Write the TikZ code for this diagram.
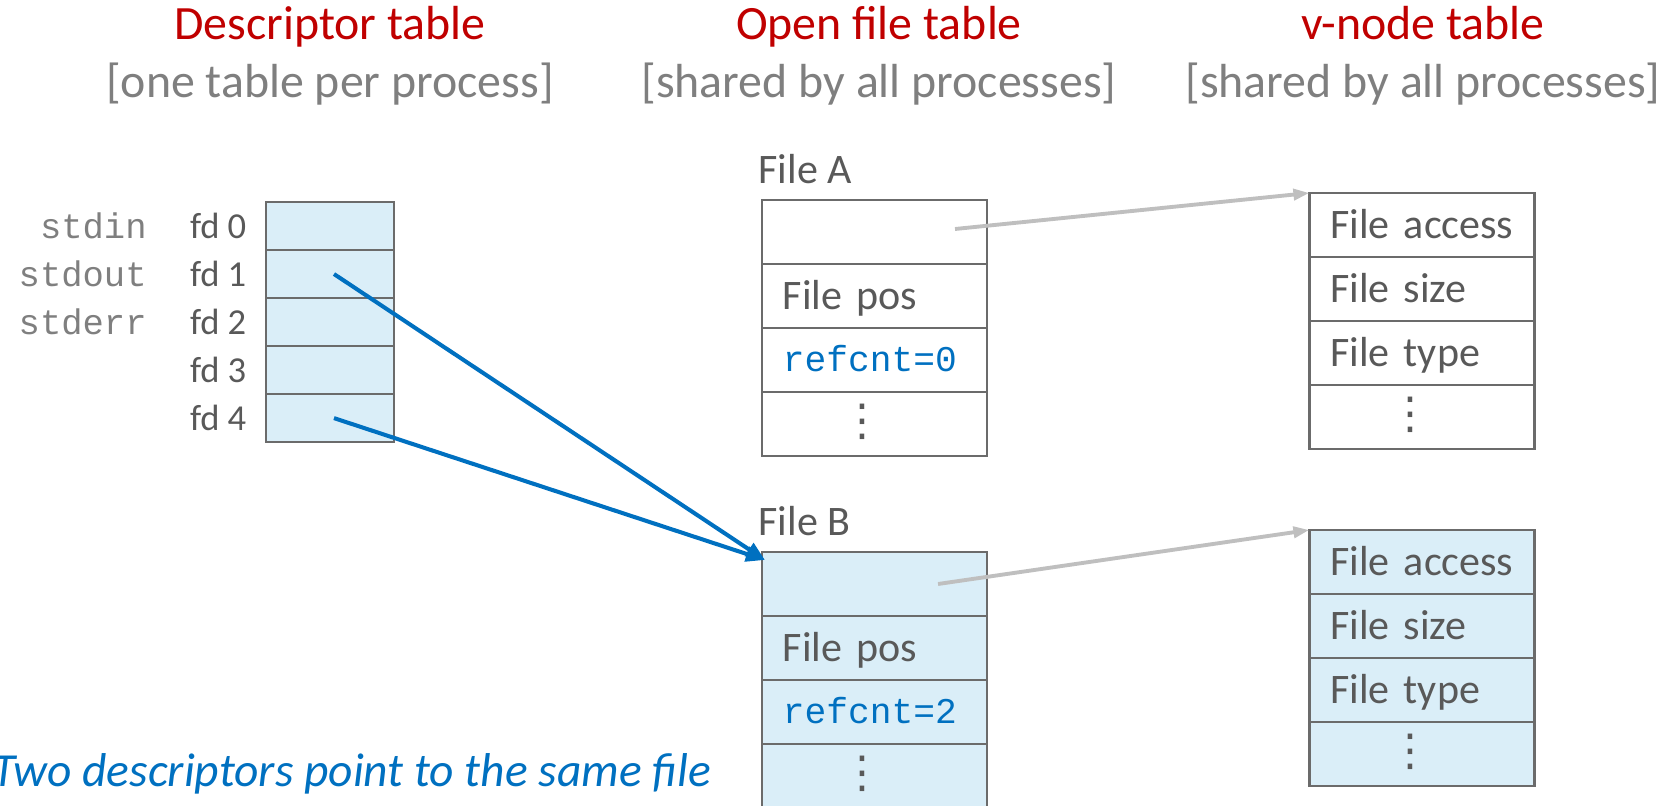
\documentclass[tikz,border=0pt]{standalone}
\usepackage{fontspec}
\setmainfont{Carlito}
\setmonofont{Liberation Mono}
\newfontfamily\symfont{DejaVu Sans}
\usepackage{tikz}
\usetikzlibrary{positioning,arrows.meta}

\definecolor{titlered}{HTML}{C00000}
\definecolor{subgray}{HTML}{7F7F7F}
\definecolor{textgray}{HTML}{595959}
\definecolor{linegray}{HTML}{6B6B6B}
\definecolor{cellblue}{HTML}{DAEEF8}
\definecolor{ptrblue}{HTML}{0070C0}
\definecolor{ptrgray}{HTML}{BFBFBF}

\newcommand{\cellfont}{\fontsize{11.95pt}{14pt}\selectfont}
\newcommand{\moredots}{\hspace*{-2.4mm}\raisebox{0.6pt}{\symfont\fontsize{12.5pt}{14pt}\selectfont ⋮}}

\begin{document}
\begin{tikzpicture}[
x=0.01cm, y=-0.01cm,
fdcell/.style={rectangle, draw=linegray, fill=cellblue, line width=0.65pt, minimum width=1.28cm, minimum height=4.8mm, inner sep=0pt, outer sep=0pt},
filecell/.style={rectangle, draw=linegray, line width=0.65pt, minimum width=2.25cm, minimum height=6.4mm, inner xsep=2.1mm, inner ysep=0pt, outer sep=0pt, text width=18.3mm, align=left, text height=7.7pt, text depth=0pt, text=textgray, font=\cellfont},
refcell/.style={filecell, text=ptrblue, text height=6.6pt, font=\ttfamily\fontsize{10.3pt}{12pt}\selectfont},
dotcell/.style={filecell, align=center},
fdnum/.style={inner sep=0pt, text=textgray, font=\fontsize{10.4pt}{12pt}\selectfont},
fdname/.style={inner sep=0pt, text=subgray, font=\ttfamily\fontsize{10.1pt}{12pt}\selectfont},
flabel/.style={inner sep=0pt, text=textgray, font=\cellfont},
tabtitle/.style={inner sep=0pt, anchor=base, text=titlered, font=\fontsize{13.6pt}{16pt}\selectfont},
tabsub/.style={inner sep=0pt, anchor=base, text=subgray, font=\fontsize{13.6pt}{16pt}\selectfont},
blueptr/.style={draw=ptrblue, line width=1.15pt, -{Triangle[length=1.9mm, width=1.5mm]}},
grayptr/.style={draw=ptrgray, line width=1.1pt, -{Triangle[length=1.6mm, width=1.1mm]}},
]
\useasboundingbox (0,0) rectangle (1665,806);

%Headings
\node[tabtitle] (tdesc) at (330,39) {Descriptor table};
\node[tabsub]   (sdesc) at ([yshift=-5.8mm]tdesc.base) {[one table per process]};
\node[tabtitle] (topen) at (879,39) {Open file table};
\node[tabsub]   (sopen) at ([yshift=-5.8mm]topen.base) {[shared by all processes]};
\node[tabtitle] (tvnode) at (1423,39) {v-node table};
\node[tabsub]   (svnode) at ([yshift=-5.8mm]tvnode.base) {[shared by all processes]};

%Descriptor table
\node[fdcell] (d0) at (330,226) {};
\node[fdcell, below=0pt of d0] (d1) {};
\node[fdcell, below=0pt of d1] (d2) {};
\node[fdcell, below=0pt of d2] (d3) {};
\node[fdcell, below=0pt of d3] (d4) {};

\node[fdnum, left=1.9mm of d0] (n0) {fd 0};
\node[fdnum, left=1.9mm of d1] (n1) {fd 1};
\node[fdnum, left=1.9mm of d2] (n2) {fd 2};
\node[fdnum, left=1.9mm of d3] (n3) {fd 3};
\node[fdnum, left=1.9mm of d4] (n4) {fd 4};

\node[fdname, left=4.2mm of n0] (s0) {stdin};
\node[fdname, left=4.2mm of n1] (s1) {stdout};
\node[fdname, left=4.2mm of n2] (s2) {stderr};

%Open file table
\node[filecell] (fa1) at (874.5,232) {};
\node[filecell, below=0pt of fa1] (fa2) {File pos};
\node[refcell,  below=0pt of fa2] (fa3) {refcnt=0};
\node[dotcell,  below=0pt of fa3] (fa4) {\moredots};
\node[flabel, above right=1.5mm and -0.4mm of fa1.north west] (la) {File A};

\node[filecell, fill=cellblue] (fb1) at (874.5,584) {};
\node[filecell, fill=cellblue, below=0pt of fb1] (fb2) {File pos};
\node[refcell,  fill=cellblue, below=0pt of fb2] (fb3) {refcnt=2};
\node[dotcell,  fill=cellblue, below=0pt of fb3] (fb4) {\moredots};
\node[flabel, above right=1.5mm and -0.4mm of fb1.north west] (lb) {File B};

%v-node table
\node[filecell] (va1) at (1422,225) {File access};
\node[filecell, below=0pt of va1] (va2) {File size};
\node[filecell, below=0pt of va2] (va3) {File type};
\node[dotcell,  below=0pt of va3] (va4) {\moredots};

\node[filecell, fill=cellblue] (vb1) at (1422,562) {File access};
\node[filecell, fill=cellblue, below=0pt of vb1] (vb2) {File size};
\node[filecell, fill=cellblue, below=0pt of vb2] (vb3) {File type};
\node[dotcell,  fill=cellblue, below=0pt of vb3] (vb4) {\moredots};

\node[inner sep=0pt, anchor=base east, text=ptrblue, font=\itshape\fontsize{13.5pt}{16pt}\selectfont] (note) at (712,786) {Two descriptors point to the same file};

%Lines
\coordinate (tipB) at ([xshift=0.3mm, yshift=-0.8mm]fb1.north west);
\draw[blueptr] ([xshift=0.4mm]d1.center) -- (tipB);
\draw[blueptr] ([xshift=0.4mm]d4.center) -- (tipB);
\draw[grayptr] ([xshift=-3.2mm, yshift=0.3mm]fa1.east) -- (va1.north west);
\draw[grayptr] ([xshift=-4.9mm]fb1.east) -- (vb1.north west);

\end{tikzpicture}
\end{document}
